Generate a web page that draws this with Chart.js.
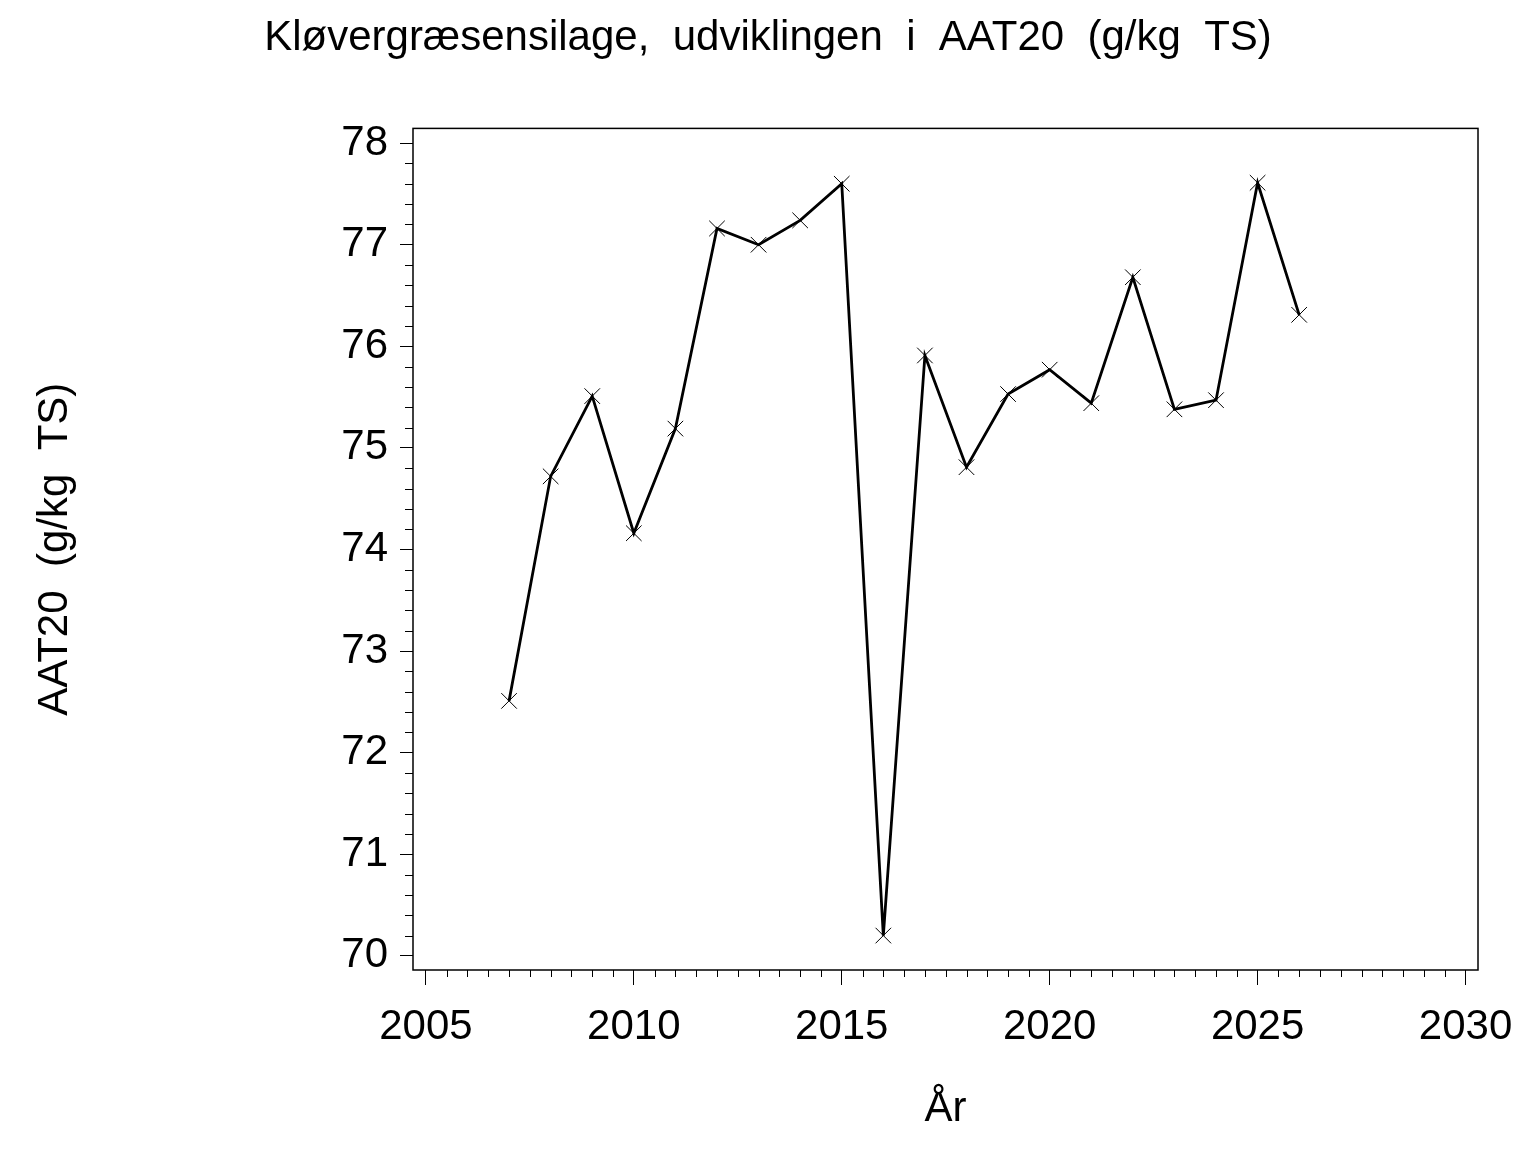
<!DOCTYPE html>
<html>
<head>
<meta charset="utf-8">
<title>Kløvergræsensilage AAT20</title>
<script src="https://cdn.jsdelivr.net/npm/chart.js@4.4.1/dist/chart.umd.min.js"></script>
<style>
  html, body { margin: 0; padding: 0; background: #fff; }
  #wrap { width: 1536px; height: 1152px; }
</style>
</head>
<body>
<div id="wrap"><canvas id="chart"></canvas></div>
<script>
// data
const years = [2007, 2008, 2009, 2010, 2011, 2012, 2013, 2014, 2015, 2016,
               2017, 2018, 2019, 2020, 2021, 2022, 2023, 2024, 2025, 2026];
const aat20 = [72.51, 74.72, 75.51, 74.16, 75.19, 77.16, 77.00, 77.24, 77.60, 70.20,
               75.91, 74.81, 75.53, 75.77, 75.44, 76.68, 75.38, 75.47, 77.61, 76.31];
const xTicks = [2005, 2010, 2015, 2020, 2025, 2030];
const yTicks = [70, 71, 72, 73, 74, 75, 76, 77, 78];

const FONT = 'Liberation Sans, Arial, Helvetica, sans-serif';
Chart.defaults.color = '#000';
Chart.defaults.font.family = FONT;

// frame round the plot area + SAS style minor ticks
const framePlugin = {
  id: 'frame',
  afterDraw(chart) {
    const { ctx, chartArea: a, scales: { x, y } } = chart;
    ctx.save();
    ctx.strokeStyle = '#000';
    ctx.lineWidth = 1.5;
    ctx.strokeRect(a.left, a.top, a.right - a.left, a.bottom - a.top);
    ctx.lineWidth = 1;
    ctx.beginPath();
    for (let v = xTicks[0]; v < xTicks[xTicks.length - 1]; v += 0.5) {
      if (v % 5 === 0) continue;
      const px = Math.round(x.getPixelForValue(v)) + 0.5;
      ctx.moveTo(px, a.bottom);
      ctx.lineTo(px, a.bottom + 7);
    }
    for (let i = 0; i < (yTicks.length - 1) * 5; i++) {
      if (i % 5 === 0) continue;
      const py = Math.round(y.getPixelForValue(yTicks[0] + i * 0.2)) + 0.5;
      ctx.moveTo(a.left - 8, py);
      ctx.lineTo(a.left, py);
    }
    ctx.stroke();
    ctx.restore();
  }
};

new Chart(document.getElementById('chart'), {
  type: 'line',
  data: {
    datasets: [{
      data: years.map((yr, i) => ({ x: yr, y: aat20[i] })),
      borderColor: '#000',
      borderWidth: 2.8,
      tension: 0,
      pointStyle: 'crossRot',
      pointRadius: 11,
      pointBorderWidth: 1,
      pointBorderColor: '#000',
      pointBackgroundColor: '#000'
    }]
  },
  options: {
    responsive: true,
    maintainAspectRatio: false,
    devicePixelRatio: 1,
    animation: false,
    layout: { padding: 0 },
    plugins: {
      legend: { display: false },
      tooltip: { enabled: false },
      title: {
        display: true,
        text: 'Kløvergræsensilage,  udviklingen  i  AAT20  (g/kg  TS)',
        font: { size: 42, weight: 'normal' },
        color: '#000',
        padding: { top: 13, bottom: 65 }
      }
    },
    scales: {
      x: {
        type: 'linear',
        min: 2004.69,
        max: 2030.3,
        afterBuildTicks: s => { s.ticks = xTicks.map(v => ({ value: v })); },
        afterFit: s => { s.height = 182; },
        ticks: { font: { size: 42 }, padding: 17, maxRotation: 0, callback: v => String(v) },
        grid: { drawOnChartArea: false, drawTicks: true, tickLength: 15, tickColor: '#000', tickWidth: 1 },
        border: { display: false },
        title: { display: true, text: 'År', font: { size: 42 }, padding: { top: 0, bottom: 17 } }
      },
      y: {
        type: 'linear',
        min: 69.861,
        max: 78.145,
        afterBuildTicks: s => { s.ticks = yTicks.map(v => ({ value: v })); },
        afterFit: s => { s.width = 413; },
        ticks: { font: { size: 42 }, padding: 12, callback: v => String(v) },
        grid: { drawOnChartArea: false, drawTicks: true, tickLength: 13, tickColor: '#000', tickWidth: 1 },
        border: { display: false },
        title: { display: true, text: 'AAT20  (g/kg  TS)', font: { size: 42 }, padding: { top: 30, bottom: 0 } }
      },
      // empty right margin so the title stays centred on the page
      yRight: {
        type: 'linear',
        position: 'right',
        afterFit: s => { s.width = 58; },
        ticks: { display: false },
        grid: { display: false },
        border: { display: false }
      }
    }
  },
  plugins: [framePlugin]
});
</script>
</body>
</html>
